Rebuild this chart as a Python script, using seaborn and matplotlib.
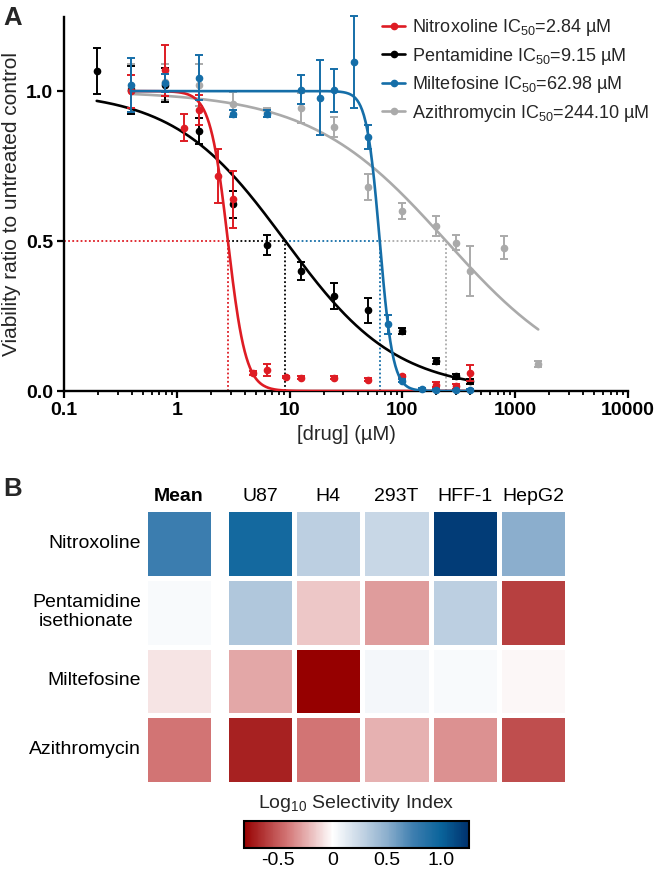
import matplotlib

matplotlib.use("Agg")
import matplotlib.pyplot as plt
import numpy as np
import pandas as pd
import seaborn as sns
from matplotlib.colors import LinearSegmentedColormap, Normalize
from matplotlib.cm import ScalarMappable
from matplotlib.lines import Line2D
from matplotlib.ticker import LogLocator, NullFormatter

# ---- panel A: dose-response data (concentration in uM, mean viability, SD) ----
nitro_conc = [0.39, 0.78, 1.17, 1.56, 2.34, 3.125, 4.69, 6.25, 9.375, 12.5, 25, 50, 100, 200, 300, 400]
nitro_mean = [1.00, 1.07, 0.877, 0.936, 0.717, 0.639, 0.06, 0.069, 0.047, 0.045, 0.045, 0.038, 0.049, 0.021, 0.016, 0.06]
nitro_sd = [0.055, 0.085, 0.045, 0.05, 0.089, 0.095, 0.008, 0.02, 0.004, 0.004, 0.004, 0.004, 0.004, 0.008, 0.008, 0.028]

pent_conc = [0.195, 0.39, 0.78, 1.56, 3.125, 6.25, 12.5, 25, 50, 100, 200, 300, 400]
pent_mean = [1.067, 1.005, 1.02, 0.866, 0.622, 0.486, 0.40, 0.317, 0.269, 0.20, 0.10, 0.049, 0.032]
pent_sd = [0.078, 0.08, 0.056, 0.043, 0.045, 0.034, 0.031, 0.043, 0.041, 0.01, 0.01, 0.008, 0.008]

milt_conc = [0.39, 0.78, 1.56, 3.125, 6.25, 12.5, 18.75, 25, 37.5, 50, 75, 100, 150, 200, 300, 400]
milt_mean = [1.019, 1.026, 1.044, 0.925, 0.925, 1.005, 0.978, 1.002, 1.097, 0.847, 0.222, 0.035, 0.008, 0.003, 0.002, 0.005]
milt_sd = [0.09, 0.03, 0.075, 0.012, 0.012, 0.047, 0.125, 0.071, 0.155, 0.04, 0.033, 0.005, 0.003, 0.003, 0.003, 0.003]

azi_conc = [0.39, 0.78, 1.56, 3.125, 6.25, 12.5, 25, 50, 100, 200, 300, 400, 800, 1600]
azi_mean = [1.01, 1.03, 1.02, 0.958, 0.93, 0.945, 0.88, 0.68, 0.599, 0.55, 0.495, 0.40, 0.478, 0.089]
azi_sd = [0.08, 0.06, 0.07, 0.04, 0.015, 0.05, 0.033, 0.043, 0.027, 0.032, 0.025, 0.083, 0.039, 0.01]

# fitted IC50 (from legend) and estimated Hill slopes
ic50_values = [2.84, 9.15, 62.98, 244.10]
hill_slopes = [5.5, 0.88, 7.5, 0.72]
drug_names = ["Nitroxoline", "Pentamidine", "Miltefosine", "Azithromycin"]
drug_colors = ["#de1c24", "#000000", "#156ea8", "#aaaaaa"]

x_ticks = [0.1, 1, 10, 100, 1000, 10000]
x_tick_labels = ["0.1", "1", "10", "100", "1000", "10000"]
y_ticks = [0.0, 0.5, 1.0]
y_tick_labels = ["0.0", "0.5", "1.0"]

# ---- panel B: log10 selectivity index ----
heat_rows = ["Nitroxoline", "Pentamidine\nisethionate", "Miltefosine", "Azithromycin"]
cell_lines = ["U87", "H4", "293T", "HFF-1", "HepG2"]
si_mean = [0.75, 0.03, -0.08, -0.42]
si_u87 = [0.95, 0.35, -0.27, -0.70]
si_h4 = [0.30, -0.17, -0.82, -0.42]
si_293t = [0.25, -0.30, 0.05, -0.23]
si_hff1 = [1.20, 0.30, 0.03, -0.33]
si_hepg2 = [0.50, -0.60, -0.02, -0.55]
cbar_ticks = [-0.5, 0, 0.5, 1.0]
cbar_tick_labels = ["-0.5", "0", "0.5", "1.0"]
SI_MIN, SI_MAX = -0.82, 1.25

W, H = 666, 874


def fig_rect(x0, y0, x1, y1):
    return [x0 / W, 1 - y1 / H, (x1 - x0) / W, (y1 - y0) / H]


def four_pl(conc, ic50, hill):
    return 1.0 / (1.0 + (conc / ic50) ** hill)


sns.set_theme(style="ticks")
plt.rcParams["font.family"] = ["Liberation Sans", "DejaVu Sans"]
plt.rcParams["mathtext.fontset"] = "custom"
plt.rcParams["mathtext.rm"] = "Liberation Sans"
plt.rcParams["mathtext.it"] = "Liberation Sans:italic"
plt.rcParams["mathtext.bf"] = "Liberation Sans:bold"

fig = plt.figure(figsize=(W / 100, H / 100), dpi=100)

# ================= panel A =================
ax = fig.add_axes(fig_rect(64, 17, 628, 391))
ax.set_xscale("log")

series = [
    (nitro_conc, nitro_mean, nitro_sd),
    (pent_conc, pent_mean, pent_sd),
    (milt_conc, milt_mean, milt_sd),
    (azi_conc, azi_mean, azi_sd),
]
zorders = [5, 4, 6, 3]

prev_ic50 = 0.1
for (conc, mean, sd), ic50, hill, color, z in zip(series, ic50_values, hill_slopes, drug_colors, zorders):
    xs = np.geomspace(min(conc), max(conc), 400)
    sns.lineplot(x=xs, y=four_pl(xs, ic50, hill), ax=ax, color=color, linewidth=1.9, zorder=z)
    ax.errorbar(conc, mean, yerr=sd, fmt="o", color=color, ms=4.5, capsize=3.2,
                elinewidth=1.4, capthick=1.4, zorder=z, clip_on=False)
    # dotted IC50 guides
    ax.plot([prev_ic50, ic50], [0.5, 0.5], color=color, linestyle=(0, (1, 1.3)), linewidth=1.3, zorder=2)
    ax.plot([ic50, ic50], [0, 0.5], color=color, linestyle=(0, (1, 1.3)), linewidth=1.3, zorder=2)
    prev_ic50 = ic50

ax.set_xlim(0.1, 10000)
ax.set_ylim(0, 1.247)
ax.set_xticks(x_ticks)
ax.set_xticklabels(x_tick_labels, fontweight="bold")
ax.xaxis.set_minor_locator(LogLocator(base=10, subs=np.arange(2, 10)))
ax.xaxis.set_minor_formatter(NullFormatter())
ax.set_yticks(y_ticks)
ax.set_yticklabels(y_tick_labels, fontweight="bold")
ax.tick_params(axis="both", which="major", labelsize=14, length=5, width=1.6, pad=3, colors="black")
ax.tick_params(axis="x", which="minor", length=3, width=1.3, colors="black")
for side in ["top", "right"]:
    ax.spines[side].set_visible(False)
for side in ["left", "bottom"]:
    ax.spines[side].set_linewidth(1.7)
    ax.spines[side].set_color("black")

ax.set_xlabel("[drug] (µM)", fontsize=14.5)
ax.set_ylabel("Viability ratio to untreated control", fontsize=15)
ax.xaxis.set_label_coords(0.5, -0.09)
ax.yaxis.set_label_coords(-0.077, 0.5)

handles = [
    Line2D([0], [0], color=c, marker="o", ms=4.5, linewidth=1.9) for c in drug_colors
]
labels = [
    f"{name} IC$_{{50}}$={ic50:.2f} µM" for name, ic50 in zip(drug_names, ic50_values)
]
ax.legend(handles, labels, loc="upper left", bbox_to_anchor=(382 / W, 1 - 17 / H),
          bbox_transform=fig.transFigure, frameon=False, fontsize=13, borderpad=0,
          borderaxespad=0, handlelength=1.3, handletextpad=0.35, labelspacing=0.42)

fig.text(3 / W, 1 - 6 / H, "A", fontsize=18.5, fontweight="bold", va="top", ha="left")

# ================= panel B =================
cmap = LinearSegmentedColormap.from_list(
    "si",
    [
        (0.0, "#960000"),
        ((-0.41 - SI_MIN) / (SI_MAX - SI_MIN), "#d47878"),
        ((0.0 - SI_MIN) / (SI_MAX - SI_MIN), "#ffffff"),
        ((0.25 - SI_MIN) / (SI_MAX - SI_MIN), "#c8d7e6"),
        ((0.5 - SI_MIN) / (SI_MAX - SI_MIN), "#8cafcd"),
        ((0.75 - SI_MIN) / (SI_MAX - SI_MIN), "#3c7daf"),
        ((1.0 - SI_MIN) / (SI_MAX - SI_MIN), "#0a649b"),
        (1.0, "#00326e"),
    ],
)

cells_df = pd.DataFrame(
    {"U87": si_u87, "H4": si_h4, "293T": si_293t, "HFF-1": si_hff1, "HepG2": si_hepg2},
    index=heat_rows,
)[cell_lines]
mean_df = pd.DataFrame({"Mean": si_mean}, index=heat_rows)

pitch = 68.2
ax_mean = fig.add_axes(fig_rect(145, 509, 145 + pitch, 784))
ax_cells = fig.add_axes(fig_rect(226, 509, 226 + 5 * pitch, 784))

sns.heatmap(mean_df, ax=ax_mean, cmap=cmap, vmin=SI_MIN, vmax=SI_MAX, cbar=False,
            linewidths=2.2, linecolor="white", xticklabels=["Mean"], yticklabels=heat_rows)
sns.heatmap(cells_df, ax=ax_cells, cmap=cmap, vmin=SI_MIN, vmax=SI_MAX, cbar=False,
            linewidths=2.2, linecolor="white", xticklabels=cell_lines, yticklabels=False)

for a in (ax_mean, ax_cells):
    a.xaxis.tick_top()
    a.tick_params(axis="both", length=0, labelsize=14, pad=3, colors="black")
    a.set_xlabel("")
    a.set_ylabel("")
for lbl in ax_mean.get_xticklabels():
    lbl.set_fontweight("bold")
for lbl in ax_mean.get_yticklabels():
    lbl.set_rotation(0)
    lbl.set_multialignment("center")

cax = fig.add_axes(fig_rect(243.5, 821, 468.5, 848))
cb = fig.colorbar(ScalarMappable(norm=Normalize(SI_MIN, SI_MAX), cmap=cmap), cax=cax,
                  orientation="horizontal")
cb.set_ticks(cbar_ticks)
cb.set_ticklabels(cbar_tick_labels)
cb.outline.set_linewidth(1.5)
cb.outline.set_edgecolor("black")
cax.tick_params(direction="in", top=True, bottom=True, length=4, width=1.3, labelsize=14,
                pad=3, colors="black")
fig.text(356 / W, 1 - 803 / H, "Log$_{10}$ Selectivity Index", fontsize=14,
         ha="center", va="center")

fig.text(3 / W, 1 - 477 / H, "B", fontsize=18.5, fontweight="bold", va="top", ha="left")

fig.savefig("out.png", dpi=100)
